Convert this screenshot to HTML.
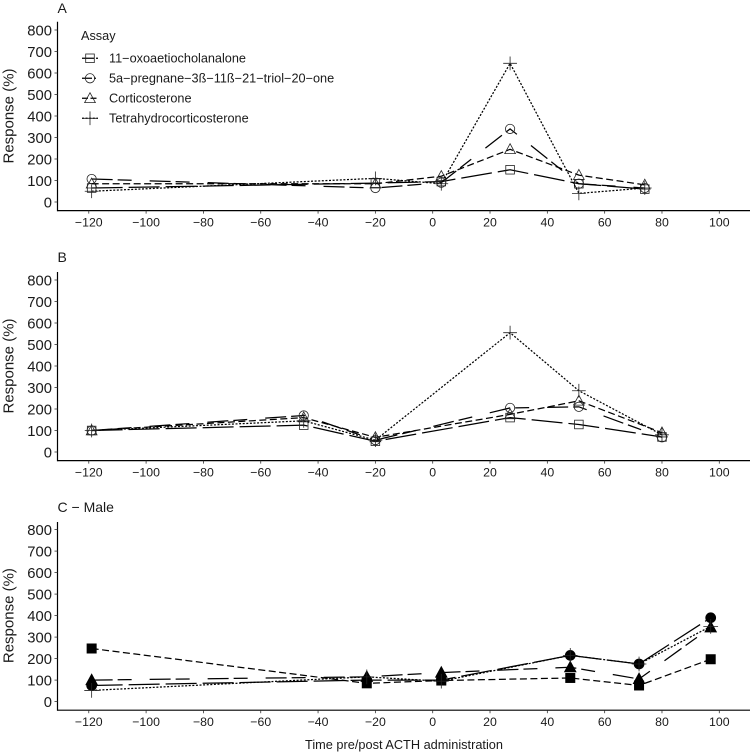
<!DOCTYPE html>
<html lang="en">
<head>
<meta charset="utf-8">
<title>Response by assay over time</title>
<style>
html,body{margin:0;padding:0;background:#fff;}
svg{display:block;}
text{font-family:"Liberation Sans",Arial,sans-serif;fill:#1a1a1a;}
</style>
</head>
<body>
<svg id="chart" xmlns="http://www.w3.org/2000/svg" width="753" height="753" viewBox="0 0 753 753">
  <rect width="753" height="753" fill="#fff"/>
  <text x="404" y="749" font-size="12.75" text-anchor="middle">Time pre/post ACTH administration</text>
</svg>
<script>
// ---- Data ----
const xTicks = [-120, -100, -80, -60, -40, -20, 0, 20, 40, 60, 80, 100];
const yTicks = [0, 100, 200, 300, 400, 500, 600, 700, 800];
const assayNames = ['11\u2212oxoaetiocholanalone', '5a\u2212pregnane\u22123\u00df\u221211\u00df\u221221\u2212triol\u221220\u2212one', 'Corticosterone', 'Tetrahydrocorticosterone'];

const timesA = [-119, -20, 3, 27, 51, 74];
const squareA = [65, 88, 95, 150, 85, 60];
const circleA = [107, 65, 90, 340, 85, 65];
const triangleA = [85, 85, 120, 245, 125, 80];
const plusA = [50, 110, 85, 645, 40, 65];

const timesB = [-119, -45, -20, 27, 51, 80];
const squareB = [100, 125, 50, 160, 128, 70];
const circleB = [100, 170, 55, 205, 210, 68];
const triangleB = [100, 160, 68, 175, 238, 90];
const plusB = [100, 145, 55, 555, 285, 80];

const timesC = [-119, -23, 3, 48, 72, 97];
const squareC = [247, 85, 98, 110, 75, 197];
const circleC = [75, 100, 100, 215, 175, 390];
const triangleC = [100, 115, 135, 160, 105, 345];
const plusC = [52, 115, 95, 215, 175, 350];

// ---- Layout ----
const NS = 'http://www.w3.org/2000/svg';
const svg = document.getElementById('chart');
const INK = '#000';
const AXIS_LEFT = 57.5;
const AXIS_RIGHT = 750;

function xScale(t) {
  return 432.7 + t * 2.866;
}
function makeYScale(zeroY) {
  return function (v) {
    return zeroY - v * 0.215;
  };
}
function make(tag, parent, props) {
  const el = document.createElementNS(NS, tag);
  for (const k in props) el.setAttribute(k, props[k]);
  parent.appendChild(el);
  return el;
}

function drawMarker(parent, kind, cx, cy, filled, size) {
  const fill = filled ? INK : 'none';
  const common = { fill: fill, stroke: filled ? INK : '#222', 'stroke-width': 0.8 };
  let m;
  if (kind === 'square') {
    m = make('rect', parent, Object.assign({ x: cx - size, y: cy - size, width: size * 2, height: size * 2 }, common));
  } else if (kind === 'circle') {
    m = make('circle', parent, Object.assign({ cx: cx, cy: cy, r: size * 1.08 }, common));
  } else if (kind === 'triangle') {
    const s = size * 1.25;
    m = make('polygon', parent, Object.assign({ points: (cx - s) + ',' + (cy + s * 0.8) + ' ' + (cx + s) + ',' + (cy + s * 0.8) + ' ' + cx + ',' + (cy - s * 1.05) }, common));
  } else {
    const s = size * 1.6;
    m = make('path', parent, { d: 'M' + (cx - s) + ' ' + cy + 'H' + (cx + s) + 'M' + cx + ' ' + (cy - s) + 'V' + (cy + s), fill: 'none', stroke: '#222', 'stroke-width': 0.8 });
  }
  return m;
}

function drawSeries(group, label, kind, times, values, yScale, dash, filled) {
  const g = make('g', group, {});
  
  
  const pts = times.map(function (t, i) {
    return xScale(t) + ',' + yScale(values[i]);
  }).join(' ');
  const line = make('polyline', g, { points: pts, fill: 'none', stroke: INK, 'stroke-width': 1.25, 'stroke-dasharray': dash });
  
  
  times.forEach(function (t, i) {
    const m = drawMarker(g, kind, xScale(t), yScale(values[i]), filled, filled ? 4.6 : 4.3);
    
    
  });
}

function drawPanel(name, title, titleY, zeroY, topY, seriesList, filled) {
  const yScale = makeYScale(zeroY);
  const axisY = zeroY + 8.6;
  const panel = make('g', svg, {});
  
  

  const titleEl = make('text', panel, { x: 57.5, y: titleY, 'font-size': 14 });
  titleEl.textContent = title;
  
  

  const yTitle = make('text', panel, { x: 0, y: 0, 'font-size': 15, 'text-anchor': 'middle', transform: 'translate(13.5,' + (zeroY - 86) + ') rotate(-90)' });
  yTitle.textContent = 'Response (%)';
  
  

  const yAxis = make('line', panel, { x1: AXIS_LEFT, x2: AXIS_LEFT, y1: topY, y2: axisY + 0.6, stroke: '#000', 'stroke-width': 1.2 });
  
  

  const xAxis = make('line', panel, { x1: AXIS_LEFT, x2: AXIS_RIGHT, y1: axisY, y2: axisY, stroke: '#000', 'stroke-width': 1.2 });
  
  

  yTicks.forEach(function (v) {
    const y = yScale(v);
    const tick = make('line', panel, { x1: AXIS_LEFT - 3, x2: AXIS_LEFT, y1: y, y2: y, stroke: '#333', 'stroke-width': 0.8 });
    
    
    const label = make('text', panel, { x: 52, y: y + 5.3, 'font-size': 14.8, 'text-anchor': 'end' });
    label.textContent = String(v);
    
    
  });

  xTicks.forEach(function (t) {
    const x = xScale(t);
    const tick = make('line', panel, { x1: x, x2: x, y1: axisY, y2: axisY + 3, stroke: '#333', 'stroke-width': 0.8 });
    
    
    const label = make('text', panel, { x: x, y: axisY + 15.8, 'font-size': 12.3, 'text-anchor': 'middle' });
    label.textContent = String(t).replace('-', '\u2212');
    
    
  });

  seriesList.forEach(function (s) {
    drawSeries(panel, name + '-' + s.label, s.kind, s.times, s.values, yScale, s.dash, filled);
  });
}

const DASH_LONG = '31 6';
const DASH_LONGDOT = '21 5 14 18';
const DASH_SHORT = '7 3.5';
const DASH_DOT = '2 1.6';

drawPanel('a', 'A', 12.8, 202, 21.7, [
  { label: 'oxoaetiocholanalone', kind: 'square', times: timesA, values: squareA, dash: DASH_LONG },
  { label: 'pregnane-triol-one', kind: 'circle', times: timesA, values: circleA, dash: DASH_LONGDOT },
  { label: 'corticosterone', kind: 'triangle', times: timesA, values: triangleA, dash: DASH_SHORT },
  { label: 'tetrahydrocorticosterone', kind: 'plus', times: timesA, values: plusA, dash: DASH_DOT }
], false);

drawPanel('b', 'B', 262, 452, 272, [
  { label: 'oxoaetiocholanalone', kind: 'square', times: timesB, values: squareB, dash: DASH_LONG },
  { label: 'pregnane-triol-one', kind: 'circle', times: timesB, values: circleB, dash: DASH_LONGDOT },
  { label: 'corticosterone', kind: 'triangle', times: timesB, values: triangleB, dash: DASH_SHORT },
  { label: 'tetrahydrocorticosterone', kind: 'plus', times: timesB, values: plusB, dash: DASH_DOT }
], false);

drawPanel('c', 'C \u2212 Male', 512, 701.6, 522, [
  { label: 'oxoaetiocholanalone', kind: 'square', times: timesC, values: squareC, dash: DASH_SHORT },
  { label: 'pregnane-triol-one', kind: 'circle', times: timesC, values: circleC, dash: DASH_LONG },
  { label: 'corticosterone', kind: 'triangle', times: timesC, values: triangleC, dash: DASH_LONGDOT },
  { label: 'tetrahydrocorticosterone', kind: 'plus', times: timesC, values: plusC, dash: DASH_DOT }
], true);

// ---- Legend ----
const legend = make('g', svg, {});


const legendTitle = make('text', legend, { x: 81, y: 40, 'font-size': 12.7 });
legendTitle.textContent = 'Assay';



const legendKinds = ['square', 'circle', 'triangle', 'plus'];
const legendDashes = ['12 2', '10 2 2 2', '6 2.5', DASH_DOT];
assayNames.forEach(function (name, i) {
  const y = 58.3 + i * 20;
  const entry = make('g', legend, {});
  
  
  const key = make('line', entry, { x1: 82, x2: 98, y1: y, y2: y, stroke: INK, 'stroke-width': 1.25, 'stroke-dasharray': legendDashes[i] });
  
  
  const mk = drawMarker(entry, legendKinds[i], 90, y, false, 4.3);
  
  
  const txt = make('text', entry, { x: 109, y: y + 4.4, 'font-size': 12.7 });
  txt.textContent = name;
  
  
});
</script>
</body>
</html>
